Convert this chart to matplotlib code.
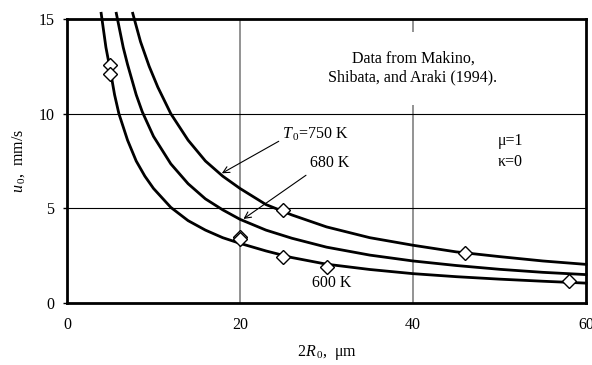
import matplotlib
matplotlib.use('Agg')
import matplotlib.pyplot as plt

plt.rcParams['font.family'] = ['Liberation Serif', 'DejaVu Serif']
plt.rcParams['mathtext.fontset'] = 'custom'
plt.rcParams['mathtext.rm'] = 'Liberation Serif'
plt.rcParams['mathtext.it'] = 'Liberation Serif:italic'

# model curves
x_600 = [3.95, 4.5, 5, 5.5, 6, 7, 8, 9, 10, 12, 14, 16, 18, 20, 23, 26, 30, 35, 40, 45, 50, 55, 60]
u_600 = [15.3, 13.5, 12.3, 11.0, 10.0, 8.6, 7.5, 6.7, 6.05, 5.05, 4.35, 3.85, 3.45, 3.15, 2.75, 2.4, 2.05, 1.77, 1.55, 1.39, 1.26, 1.15, 1.05]

x_680 = [5.7, 6.5, 7, 8, 8.7, 10, 12, 14, 16, 18, 20, 23, 26, 30, 35, 40, 45, 50, 55, 60]
u_680 = [15.3, 13.5, 12.6, 11.0, 10.1, 8.8, 7.35, 6.3, 5.5, 4.92, 4.42, 3.85, 3.42, 2.95, 2.53, 2.22, 1.98, 1.78, 1.62, 1.5]

x_750 = [7.6, 8.5, 9.5, 10.5, 12, 14, 16, 18, 20, 23, 26, 30, 35, 40, 45, 50, 55, 60]
u_750 = [15.3, 13.8, 12.5, 11.4, 10.0, 8.6, 7.5, 6.7, 6.05, 5.2, 4.65, 4.02, 3.45, 3.05, 2.7, 2.45, 2.22, 2.04]

# measured points (Makino, Shibata, Araki 1994)
x_data = [5, 5, 20, 20, 25, 25, 30, 46, 58]
u_data = [12.55, 12.1, 3.5, 3.38, 4.9, 2.42, 1.88, 2.62, 1.16]

fig = plt.figure(figsize=(5.92, 3.65), dpi=100)
ax = fig.add_axes([67/592, 1 - 303/365, (586 - 67)/592, (303 - 19)/365])

for xs, us in [(x_600, u_600), (x_680, u_680), (x_750, u_750)]:
    ax.plot(xs, us, color='black', lw=2, clip_on=False, zorder=3)

ax.plot(x_data, u_data, ls='none', marker='D', ms=7, mfc='white', mec='black',
        mew=1, zorder=4)

ax.set_xlim(0, 60)
ax.set_ylim(0, 15)
ax.set_xticks([0, 20, 40, 60])
ax.set_yticks([0, 5, 10, 15])
ax.tick_params(axis='x', length=0, pad=10, labelsize=11.5)
ax.tick_params(axis='y', length=3, width=1, pad=6, labelsize=11.5)

for v in [20, 40]:
    ax.axvline(v, color='#808080', lw=1.2, zorder=1)
for v in [5, 10]:
    ax.axhline(v, color='black', lw=0.8, zorder=1)

for s in ax.spines.values():
    s.set_linewidth(2)

ax.set_xlabel(r'2$R_{\,0}$,  μm', fontsize=11.5, labelpad=7)
ax.set_ylabel(r'$u_{\,0}$,  mm/s', fontsize=11.5, labelpad=8)

ax.text(40, 12.4, 'Data from Makino,\nShibata, and Araki (1994).', ha='center',
        va='center', fontsize=11.5, linespacing=1.25, zorder=2,
        bbox=dict(facecolor='white', edgecolor='none', boxstyle='square,pad=1.2'))

ax.annotate(r'$T_{\,0}$=750 K', xy=(17.9, 6.85), xytext=(24.8, 8.9),
            fontsize=11.5, ha='left', va='center',
            arrowprops=dict(arrowstyle='->', color='black', lw=0.8,
                            shrinkA=0, shrinkB=0, relpos=(0, 0.2)))
ax.annotate('680 K', xy=(20.4, 4.44), xytext=(30.4, 7.4),
            fontsize=11.5, ha='center', va='center',
            arrowprops=dict(arrowstyle='->', color='black', lw=0.8,
                            shrinkA=2, shrinkB=0, relpos=(0.05, 0)))
ax.text(30.6, 1.05, '600 K', fontsize=11.5, ha='center', va='center')
ax.text(49.8, 8.0, 'μ=1\nκ=0', fontsize=11.5, ha='left', va='center', linespacing=1.4)

fig.savefig('out.png', dpi=100)
